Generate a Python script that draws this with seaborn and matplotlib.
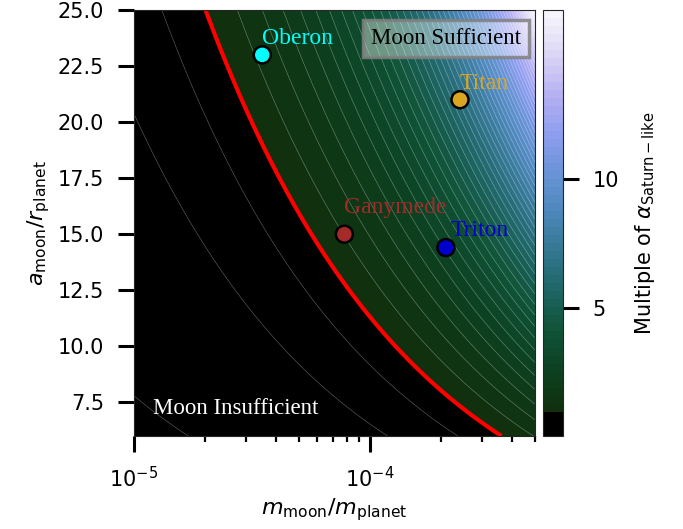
import numpy as np
import matplotlib
matplotlib.use('Agg')
import matplotlib.pyplot as plt
import seaborn as sns

# Moons: mass ratio to planet and orbital distance in planet radii
moon_names = ['Oberon', 'Titan', 'Ganymede', 'Triton']
moon_mass = [3.5e-5, 2.41e-4, 7.8e-5, 2.1e-4]
moon_dist = [23.0, 21.0, 15.0, 14.4]
moon_colors = ['cyan', 'goldenrod', 'brown', 'mediumblue']

# alpha / alpha_Saturn-like = (m / m_crit)^p * (a / a_ref)^q  (equals 1 on the red curve)
m_crit = 2.013e-5
a_ref = 25.0
p_mass = 0.87
q_dist = 1.76
level_step = 0.31
cbar_ticks = [5, 10]

# colour ramp above alpha = 1 (dark green -> teal -> blue -> lavender -> white)
ramp_colors = ['#10300e', '#0c4222', '#105438', '#1f6666', '#347892', '#4d88bc',
               '#6a94d8', '#8f9ef0', '#b8b2f2', '#dcd6f6', '#f6f5fb']

# grid over the plotted range
m = np.logspace(-5, np.log10(5e-4), 500)
a = np.linspace(6, 25, 500)
M, A = np.meshgrid(m, a)
Z = (M / m_crit) ** p_mass * (A / a_ref) ** q_dist

levels = 1 + level_step * np.arange(-3, 51)
n_black = int(np.sum(levels[1:] <= 1.0 + 1e-9))
green = sns.blend_palette(ramp_colors, n_colors=len(levels) - 1 - n_black)
fill_colors = ['black'] * n_black + list(green)

sns.set_style('ticks')
plt.rcParams['font.family'] = ['DejaVu Sans']
plt.rcParams['text.color'] = 'black'
plt.rcParams['axes.labelcolor'] = 'black'
plt.rcParams['xtick.color'] = 'black'
plt.rcParams['ytick.color'] = 'black'

fig = plt.figure(figsize=(6.83, 5.29), dpi=100)
ax = fig.add_axes([0.196, 0.176, 0.587, 0.805])
cax = fig.add_axes([0.795, 0.176, 0.029, 0.805])
ax.set_facecolor('black')

cf = ax.contourf(M, A, Z, levels=levels, colors=fill_colors)
ax.contour(M, A, Z, levels=levels, colors='white', linewidths=0.4, alpha=0.4)
ax.contour(M, A, Z, levels=[1.0], colors='red', linewidths=3)

sns.scatterplot(x=moon_mass, y=moon_dist, hue=moon_names, palette=moon_colors,
                s=150, edgecolor='black', linewidth=1.8, legend=False, ax=ax, zorder=5)

# label offsets (x multiplicative, y additive)
label_dx = [1.0, 1.0, 1.0, 1.05]
label_dy = [0.48, 0.46, 0.96, 0.53]
for name, mx, ay, c, dx, dy in zip(moon_names, moon_mass, moon_dist, moon_colors, label_dx, label_dy):
    ax.text(mx * dx, ay + dy, name, color=c, fontsize=17, family='Liberation Serif',
            ha='left', va='baseline', zorder=6)

ax.text(0.779, 0.933, 'Moon Sufficient', transform=ax.transAxes, ha='center', va='center',
        fontsize=16.5, family='Liberation Serif', zorder=6,
        bbox=dict(boxstyle='square,pad=0.35', facecolor=(1, 1, 1, 0.4),
                  edgecolor=(0.5, 0.5, 0.5, 0.85), linewidth=2.5))
ax.text(0.047, 0.052, 'Moon Insufficient', transform=ax.transAxes, ha='left', va='baseline',
        fontsize=16.5, family='Liberation Serif', color='white', zorder=6)

ax.set_xscale('log')
ax.set_xlim(1e-5, 5e-4)
ax.set_ylim(6, 25)
ax.set_yticks(np.arange(7.5, 25.1, 2.5))
ax.set_xlabel(r'$m_{\rm moon}/m_{\rm planet}$', fontsize=16)
ax.set_ylabel(r'$a_{\rm moon}/r_{\rm planet}$', fontsize=16)
ax.tick_params(which='major', length=11.5, width=2.2, pad=10, labelsize=15)
ax.tick_params(which='minor', length=4.5, width=1.6)

cb = fig.colorbar(cf, cax=cax, ticks=cbar_ticks)
cb.set_label(r'Multiple of $\alpha_{\rm Saturn-like}$', fontsize=15, labelpad=10)
cax.tick_params(length=11.5, width=2.2, pad=10, labelsize=15)

fig.savefig('out.png', dpi=100)
